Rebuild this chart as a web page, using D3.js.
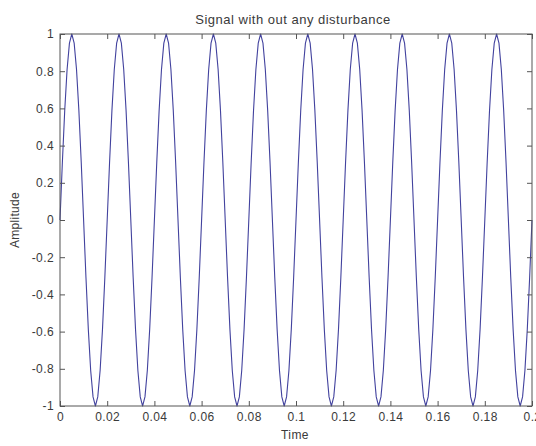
<!DOCTYPE html>
<html>
<head>
<meta charset="utf-8">
<script src="https://cdn.jsdelivr.net/npm/d3@7"></script>
<style>
  html, body { margin: 0; padding: 0; background: #ffffff; }
  svg { display: block; }
  text { font-family: "Liberation Sans", Arial, sans-serif; fill: #3a3a3a; }
</style>
</head>
<body>
<svg id="chart" width="536" height="446"></svg>
<script>
// Sample times (s)
const time = [
  0, 0.001, 0.002, 0.003, 0.004, 0.005, 0.006, 0.007, 0.008, 0.009, 0.010, 0.011, 0.012, 0.013, 0.014, 0.015, 0.016, 0.017, 0.018, 0.019,
  0.020, 0.021, 0.022, 0.023, 0.024, 0.025, 0.026, 0.027, 0.028, 0.029, 0.030, 0.031, 0.032, 0.033, 0.034, 0.035, 0.036, 0.037, 0.038, 0.039,
  0.040, 0.041, 0.042, 0.043, 0.044, 0.045, 0.046, 0.047, 0.048, 0.049, 0.050, 0.051, 0.052, 0.053, 0.054, 0.055, 0.056, 0.057, 0.058, 0.059,
  0.060, 0.061, 0.062, 0.063, 0.064, 0.065, 0.066, 0.067, 0.068, 0.069, 0.070, 0.071, 0.072, 0.073, 0.074, 0.075, 0.076, 0.077, 0.078, 0.079,
  0.080, 0.081, 0.082, 0.083, 0.084, 0.085, 0.086, 0.087, 0.088, 0.089, 0.090, 0.091, 0.092, 0.093, 0.094, 0.095, 0.096, 0.097, 0.098, 0.099,
  0.100, 0.101, 0.102, 0.103, 0.104, 0.105, 0.106, 0.107, 0.108, 0.109, 0.110, 0.111, 0.112, 0.113, 0.114, 0.115, 0.116, 0.117, 0.118, 0.119,
  0.120, 0.121, 0.122, 0.123, 0.124, 0.125, 0.126, 0.127, 0.128, 0.129, 0.130, 0.131, 0.132, 0.133, 0.134, 0.135, 0.136, 0.137, 0.138, 0.139,
  0.140, 0.141, 0.142, 0.143, 0.144, 0.145, 0.146, 0.147, 0.148, 0.149, 0.150, 0.151, 0.152, 0.153, 0.154, 0.155, 0.156, 0.157, 0.158, 0.159,
  0.160, 0.161, 0.162, 0.163, 0.164, 0.165, 0.166, 0.167, 0.168, 0.169, 0.170, 0.171, 0.172, 0.173, 0.174, 0.175, 0.176, 0.177, 0.178, 0.179,
  0.180, 0.181, 0.182, 0.183, 0.184, 0.185, 0.186, 0.187, 0.188, 0.189, 0.190, 0.191, 0.192, 0.193, 0.194, 0.195, 0.196, 0.197, 0.198, 0.199,
  0.200
];

// Signal amplitude at each sample time
const amplitude = [
  0, 0.309, 0.588, 0.809, 0.951, 1, 0.951, 0.809, 0.588, 0.309, 0, -0.309, -0.588, -0.809, -0.951, -1, -0.951, -0.809, -0.588, -0.309,
  0, 0.309, 0.588, 0.809, 0.951, 1, 0.951, 0.809, 0.588, 0.309, 0, -0.309, -0.588, -0.809, -0.951, -1, -0.951, -0.809, -0.588, -0.309,
  0, 0.309, 0.588, 0.809, 0.951, 1, 0.951, 0.809, 0.588, 0.309, 0, -0.309, -0.588, -0.809, -0.951, -1, -0.951, -0.809, -0.588, -0.309,
  0, 0.309, 0.588, 0.809, 0.951, 1, 0.951, 0.809, 0.588, 0.309, 0, -0.309, -0.588, -0.809, -0.951, -1, -0.951, -0.809, -0.588, -0.309,
  0, 0.309, 0.588, 0.809, 0.951, 1, 0.951, 0.809, 0.588, 0.309, 0, -0.309, -0.588, -0.809, -0.951, -1, -0.951, -0.809, -0.588, -0.309,
  0, 0.309, 0.588, 0.809, 0.951, 1, 0.951, 0.809, 0.588, 0.309, 0, -0.309, -0.588, -0.809, -0.951, -1, -0.951, -0.809, -0.588, -0.309,
  0, 0.309, 0.588, 0.809, 0.951, 1, 0.951, 0.809, 0.588, 0.309, 0, -0.309, -0.588, -0.809, -0.951, -1, -0.951, -0.809, -0.588, -0.309,
  0, 0.309, 0.588, 0.809, 0.951, 1, 0.951, 0.809, 0.588, 0.309, 0, -0.309, -0.588, -0.809, -0.951, -1, -0.951, -0.809, -0.588, -0.309,
  0, 0.309, 0.588, 0.809, 0.951, 1, 0.951, 0.809, 0.588, 0.309, 0, -0.309, -0.588, -0.809, -0.951, -1, -0.951, -0.809, -0.588, -0.309,
  0, 0.309, 0.588, 0.809, 0.951, 1, 0.951, 0.809, 0.588, 0.309, 0, -0.309, -0.588, -0.809, -0.951, -1, -0.951, -0.809, -0.588, -0.309,
  0
];

const xTicks = [0, 0.02, 0.04, 0.06, 0.08, 0.1, 0.12, 0.14, 0.16, 0.18, 0.2];
const xTickLabels = ["0", "0.02", "0.04", "0.06", "0.08", "0.1", "0.12", "0.14", "0.16", "0.18", "0.2"];
const yTicks = [-1, -0.8, -0.6, -0.4, -0.2, 0, 0.2, 0.4, 0.6, 0.8, 1];
const yTickLabels = ["-1", "-0.8", "-0.6", "-0.4", "-0.2", "0", "0.2", "0.4", "0.6", "0.8", "1"];

const titleText = "Signal with out any disturbance";
const xLabel = "Time";
const yLabel = "Amplitude";

const svg = d3.select("#chart");
const box = { left: 60, right: 532, top: 34, bottom: 406 };
const axisColor = "#555555";
const lineColor = "#42429e";

const x = d3.scaleLinear().domain([0, 0.2]).range([box.left, box.right]);
const y = d3.scaleLinear().domain([-1, 1]).range([box.bottom, box.top]);

// Signal trace
const line = d3.line().x(d => x(d[0])).y(d => y(d[1]));
svg.append("path")
  .datum(time.map((t, i) => [t, amplitude[i]]))
  .attr("d", line)
  .attr("fill", "none")
  .attr("stroke", lineColor)
  .attr("stroke-width", 1.1)
  .attr("stroke-linejoin", "round");

function styleAxis(g) {
  g.select(".domain").remove();
  g.selectAll(".tick line").attr("stroke", axisColor);
  g.selectAll(".tick text")
    .attr("fill", "#3a3a3a")
    .style("font-family", "'Liberation Sans', Arial, sans-serif")
    .style("font-size", "12px")
    .style("letter-spacing", "0.4px");
}

const tickLen = 5;

// Bottom and left axes with labels, ticks pointing inward
svg.append("g")
  .attr("transform", `translate(0,${box.bottom})`)
  .call(d3.axisBottom(x).tickValues(xTicks)
    .tickFormat((d, i) => xTickLabels[i])
    .tickSizeInner(-tickLen).tickSizeOuter(0).tickPadding(6))
  .call(styleAxis);

svg.append("g")
  .attr("transform", `translate(${box.left},0)`)
  .call(d3.axisLeft(y).tickValues(yTicks)
    .tickFormat((d, i) => yTickLabels[i])
    .tickSizeInner(-tickLen).tickSizeOuter(0).tickPadding(6))
  .call(styleAxis);

// Top and right mirrored ticks
svg.append("g")
  .attr("transform", `translate(0,${box.top})`)
  .call(d3.axisTop(x).tickValues(xTicks).tickFormat("")
    .tickSizeInner(-tickLen).tickSizeOuter(0))
  .call(styleAxis);

svg.append("g")
  .attr("transform", `translate(${box.right},0)`)
  .call(d3.axisRight(y).tickValues(yTicks).tickFormat("")
    .tickSizeInner(-tickLen).tickSizeOuter(0))
  .call(styleAxis);

// Plot box
svg.append("rect")
  .attr("x", box.left).attr("y", box.top)
  .attr("width", box.right - box.left).attr("height", box.bottom - box.top)
  .attr("fill", "none")
  .attr("stroke", axisColor)
  .attr("stroke-width", 1);

// Title and axis labels
svg.append("text")
  .attr("x", 293).attr("y", 24)
  .attr("text-anchor", "middle")
  .style("font-size", "13px")
  .style("letter-spacing", "0.5px")
  .text(titleText);

svg.append("text")
  .attr("x", 295).attr("y", 439)
  .attr("text-anchor", "middle")
  .style("font-size", "12px")
  .style("letter-spacing", "0.4px")
  .text(xLabel);

svg.append("text")
  .attr("transform", "translate(19,220) rotate(-90)")
  .attr("text-anchor", "middle")
  .style("font-size", "12px")
  .style("letter-spacing", "0.3px")
  .text(yLabel);
</script>
</body>
</html>
